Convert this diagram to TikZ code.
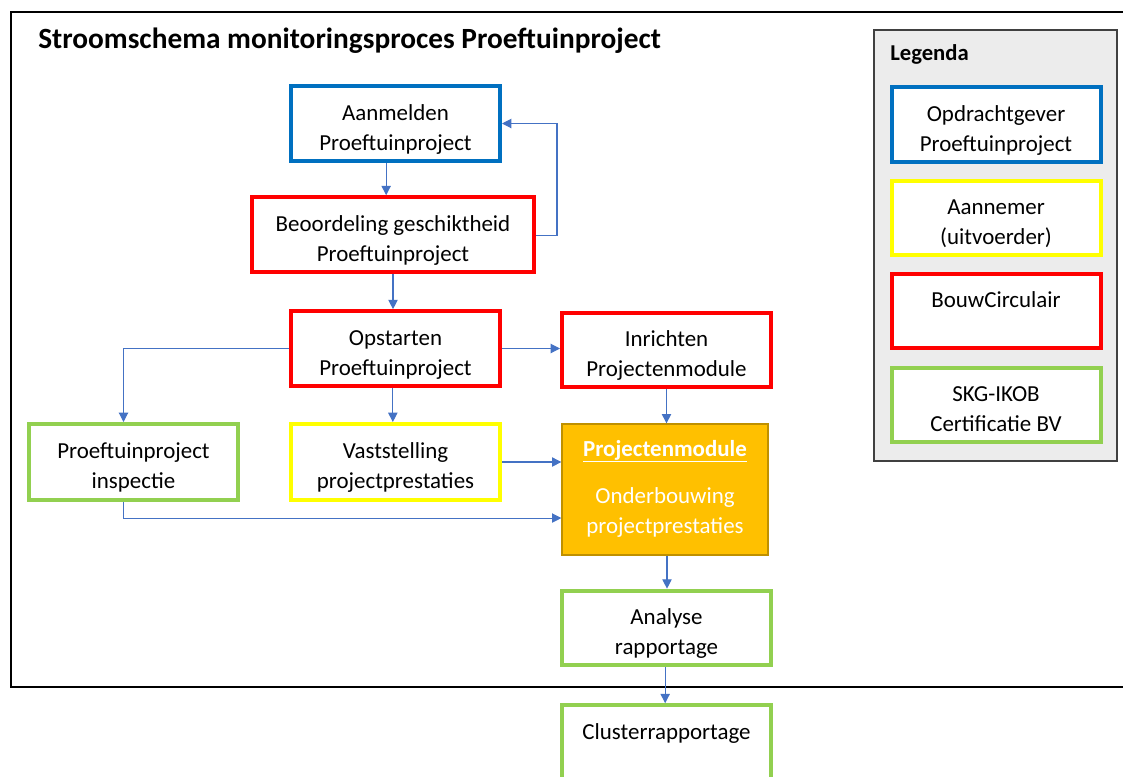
\documentclass[tikz,border=0pt]{standalone}
\usepackage{fontspec}
\setmainfont{Carlito}
\usetikzlibrary{arrows.meta}
\definecolor{bblue}{RGB}{0,112,192}
\definecolor{bred}{RGB}{255,0,0}
\definecolor{byellow}{RGB}{255,255,0}
\definecolor{bgreen}{RGB}{146,208,80}
\definecolor{borange}{RGB}{255,192,0}
\definecolor{bgold}{RGB}{191,144,0}
\definecolor{arrowblue}{RGB}{68,114,196}
\definecolor{leggray}{RGB}{236,236,236}
\definecolor{legframe}{RGB}{64,64,64}
\begin{document}
\begin{tikzpicture}[x=0.75pt,y=-0.75pt,
  every node/.style={font=\fontsize{17.2}{22.5}\selectfont, inner sep=0pt},
  flowbox/.style={draw, line width=3pt, fill=white, align=center,
    minimum width=156.75pt, minimum height=56pt, text height=39.75pt, text depth=0pt},
  bluebox/.style={flowbox, draw=bblue},
  redbox/.style={flowbox, draw=bred},
  yellowbox/.style={flowbox, draw=byellow},
  greenbox/.style={flowbox, draw=bgreen},
  conn/.style={draw=arrowblue, line width=0.8pt, -{Triangle[length=7pt,width=7pt]}}
]
\useasboundingbox (0,0) rectangle (1123,776);
\clip (0,0) rectangle (1123,776);
\fill[white] (0,0) rectangle (1123,776);

% outer frame
\draw[line width=1.5pt] (11,12) rectangle (1140,687);

% title
\node[anchor=base west, font=\fontsize{22}{26}\selectfont\bfseries] (title) at (38,48) {Stroomschema monitoringsproces Proeftuinproject};

% flow boxes
\node[bluebox] (aan) at (395.5,123.5) {Aanmelden\\Proeftuinproject};
\node[redbox, minimum width=211.5pt] (beo) at (393,234.5) {Beoordeling geschiktheid\\Proeftuinproject};
\node[redbox] (ops) at (395.5,348.5) {Opstarten\\Proeftuinproject};
\node[redbox] (inr) at (666.5,350) {Inrichten\\Projectenmodule};
\node[greenbox, minimum height=57pt] (insp) at (133.5,462) {Proeftuinproject\\inspectie};
\node[yellowbox, minimum height=57pt] (vast) at (395.5,462) {Vaststelling\\projectprestaties};
\node[draw=bgold, fill=borange, line width=1pt, text=white, align=center,
  minimum width=154.5pt, minimum height=98.25pt, text height=65.25pt, text depth=0pt] (proj) at (665,489.5)
  {\textbf{\underline{Projectenmodule}}\\[12.75pt]Onderbouwing\\projectprestaties};
\node[greenbox] (ana) at (666.5,628) {Analyse\\rapportage};
\node[greenbox] (clu) at (666.5,742.5) {Clusterrapportage\\\mbox{}};

% legend
\node[draw=legframe, fill=leggray, line width=1.5pt, minimum width=182.25pt, minimum height=323.25pt] (leg) at (995.5,245.5) {};
\node[anchor=base west, font=\fontsize{17}{20}\selectfont\bfseries] (legt) at (890,60) {Legenda};
\node[bluebox] (l1) at (996,124.5) {Opdrachtgever\\Proeftuinproject};
\node[yellowbox] (l2) at (996,218) {Aannemer\\(uitvoerder)};
\node[redbox] (l3) at (996,311) {BouwCirculair\\\mbox{}};
\node[greenbox] (l4) at (996,405) {SKG-IKOB\\Certificatie BV};

% connectors
\draw[conn] ([xshift=-7pt]aan.south) -- ([xshift=-7pt]aan.south |- beo.north);
\draw[conn] ([yshift=-1pt]beo.east) -- ++(21,0) |- (aan.east);
\draw[conn] (beo.south) -- (beo.south |- ops.north);
\draw[conn] (ops.west) -| ([xshift=-7.5pt]insp.north);
\draw[conn] (ops.east) -- (ops.east -| inr.west);
\draw[conn] ([xshift=-2pt]ops.south) -- ([xshift=-2pt]ops.south |- vast.north);
\draw[conn] (inr.south) -- (inr.south |- proj.north);
\draw[conn] (vast.east) -- (vast.east -| proj.west);
\draw[conn] ([xshift=-7.5pt]insp.south) |- ([yshift=-21.4pt]proj.west);
\draw[conn] ([xshift=1.5pt]proj.south) -- ([xshift=1.5pt]proj.south |- ana.north);
\draw[conn] ([xshift=-1pt]ana.south) -- ([xshift=-1pt]ana.south |- clu.north);
\end{tikzpicture}
\end{document}
